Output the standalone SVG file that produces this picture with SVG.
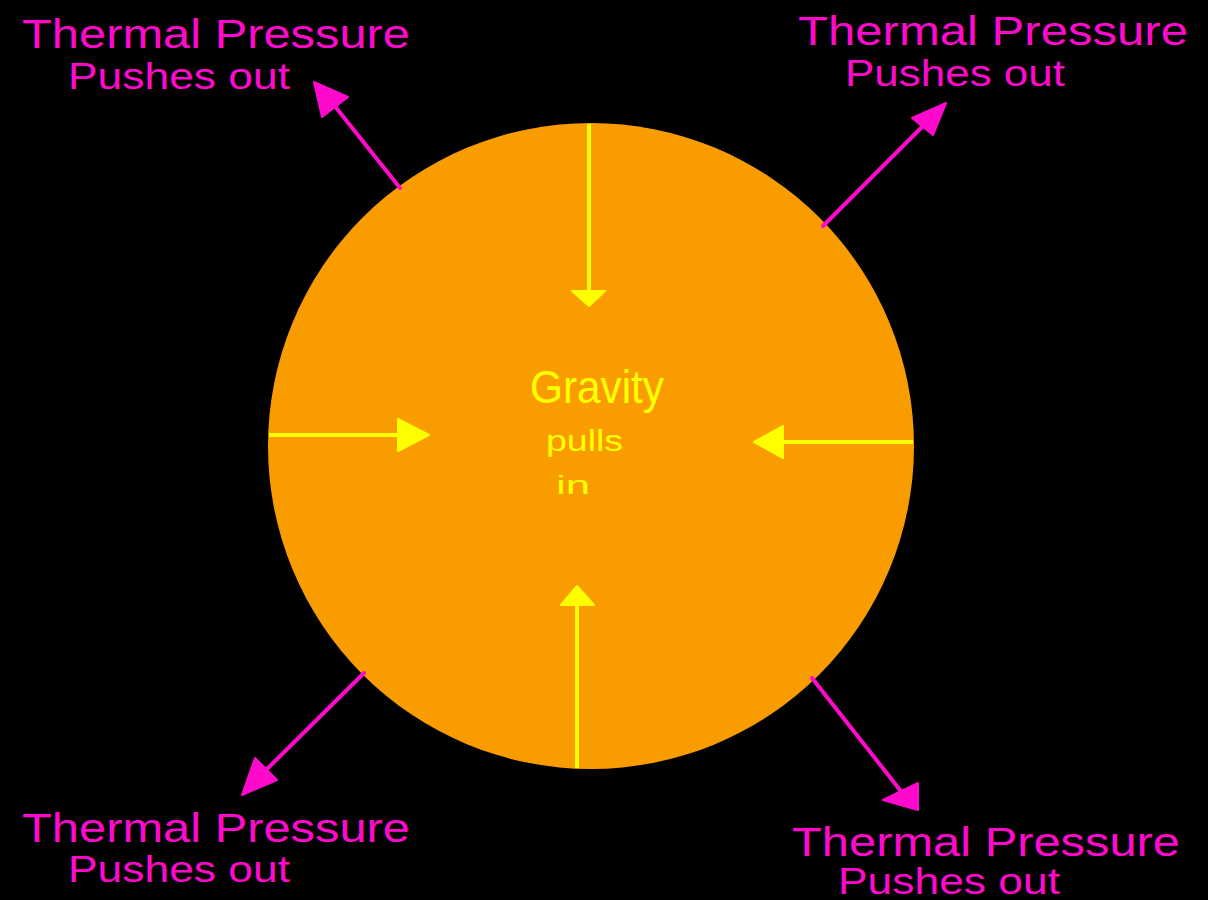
<svg xmlns="http://www.w3.org/2000/svg" width="1208" height="900" viewBox="0 0 1208 900">
<style>
.lbl{font-family:"Liberation Sans",Arial,sans-serif;fill:#ff0acd;font-size:40px;}
.sub{font-size:36px;}
.ctr{font-family:"Liberation Sans",Arial,sans-serif;fill:#ffff00;}
.mline{stroke:#ff0acd;stroke-width:4;stroke-linecap:round;fill:none;}
.mhead{fill:#ff0acd;stroke:#ff0acd;stroke-width:2;stroke-linejoin:round;}
.yline{stroke:#ffff00;stroke-width:4;fill:none;}
.yhead{fill:#ffff00;stroke:#ffff00;stroke-width:2;stroke-linejoin:round;}
</style>
<rect width="1208" height="900" fill="#000"/>
<g id="sun">
<circle cx="591" cy="446" r="323" fill="#f99c00"/>
<text class="ctr" x="530" y="403" font-size="46" textLength="134" lengthAdjust="spacingAndGlyphs">Gravity</text>
<text class="ctr" x="546" y="451" font-size="30" textLength="77" lengthAdjust="spacingAndGlyphs">pulls</text>
<text class="ctr" x="556" y="494" font-size="26" textLength="34" lengthAdjust="spacingAndGlyphs">in</text>
</g>
<g id="label-tl">
<text class="lbl" x="22" y="48" textLength="388" lengthAdjust="spacingAndGlyphs">Thermal Pressure</text>
<text class="lbl sub" x="68" y="89" textLength="222" lengthAdjust="spacingAndGlyphs">Pushes out</text>
</g>
<g id="label-tr">
<text class="lbl" x="798" y="45" textLength="390" lengthAdjust="spacingAndGlyphs">Thermal Pressure</text>
<text class="lbl sub" x="845" y="86" textLength="220" lengthAdjust="spacingAndGlyphs">Pushes out</text>
</g>
<g id="label-bl">
<text class="lbl" x="22" y="842" textLength="388" lengthAdjust="spacingAndGlyphs">Thermal Pressure</text>
<text class="lbl sub" x="68" y="882" textLength="222" lengthAdjust="spacingAndGlyphs">Pushes out</text>
</g>
<g id="label-br">
<text class="lbl" x="792" y="856" textLength="388" lengthAdjust="spacingAndGlyphs">Thermal Pressure</text>
<text class="lbl sub" x="838" y="894" textLength="222" lengthAdjust="spacingAndGlyphs">Pushes out</text>
</g>
<g id="connectors">
<line class="mline" x1="400" y1="188" x2="334" y2="105"/>
<polygon class="mhead" points="314,82 322,117 348,97"/>
<line class="mline" x1="823" y1="226" x2="922" y2="127"/>
<polygon class="mhead" points="946,103 912,118 933,135"/>
<line class="mline" x1="364" y1="673" x2="265" y2="771"/>
<polygon class="mhead" points="242,795 255,758 277,780"/>
<line class="mline" x1="812" y1="678" x2="900" y2="790"/>
<polygon class="mhead" points="918,810 883,800 918,783"/>
<line class="yline" x1="589" y1="124" x2="589" y2="292"/>
<polygon class="yhead" points="572,291 605,291 589,306"/>
<line class="yline" x1="269" y1="435" x2="400" y2="435"/>
<polygon class="yhead" points="398,419 398,451 429,435"/>
<line class="yline" x1="913" y1="442" x2="782" y2="442"/>
<polygon class="yhead" points="783,426 783,458 754,442"/>
<line class="yline" x1="577" y1="768" x2="577" y2="604"/>
<polygon class="yhead" points="561,605 594,605 577,586"/>
</g>
</svg>
